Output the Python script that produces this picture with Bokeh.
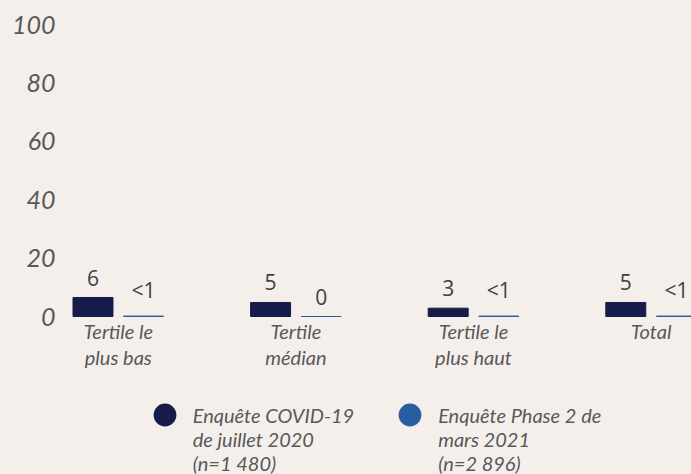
from bokeh.plotting import figure
from bokeh.models import FixedTicker, ColumnDataSource, Legend, LegendItem
from bokeh.transform import dodge
from bokeh.core.properties import value
from bokeh.embed import file_html
from bokeh.resources import INLINE

categories = ["Tertile le\nplus bas", "Tertile\nmédian", "Tertile le\nplus haut", "Total"]
juillet_2020 = [6.5, 4.8, 2.85, 4.8]
mars_2021 = [0.15, 0, 0.15, 0.15]
labels_2020 = ["6", "5", "3", "5"]
labels_2021 = ["<1", "0", "<1", "<1"]
series_names = ["Enquête COVID-19\nde juillet 2020\n(n=1 480)",
                "Enquête Phase 2 de\nmars 2021\n(n=2 896)"]
y_ticks = [0, 20, 40, 60, 80, 100]

BG = "#f5efec"
C1 = "#161b4a"
C2 = "#2a5d9f"
GREY = "#595959"

idx = list(range(len(categories)))
src = ColumnDataSource(dict(x=idx, cat=categories, a=juillet_2020, b=mars_2021,
                            la=labels_2020, lb=labels_2021, zero=[0] * len(idx)))

p = figure(width=691, height=474, output_backend="svg", toolbar_location=None,
           x_range=(-0.3142, 3.2275), y_range=(-54.11, 108.22),
           x_axis_location=None,
           min_border_left=62, min_border_right=0, min_border_top=0, min_border_bottom=0,
           background_fill_color=BG, border_fill_color=BG, outline_line_color=None)
p.grid.visible = False

ya = p.yaxis[0]
ya.ticker = FixedTicker(ticks=y_ticks)
ya.axis_line_color = None
ya.major_tick_line_color = None
ya.minor_tick_line_color = None
ya.major_tick_out = 0
ya.major_tick_in = 0
ya.minor_tick_out = 0
ya.minor_tick_in = 0
ya.major_label_standoff = 7
ya.major_label_text_font = "Lato"
ya.major_label_text_font_style = "italic"
ya.major_label_text_font_size = "25px"
ya.major_label_text_color = GREY

off = 0.1425
w = 0.225
p.vbar(x=dodge('x', -off), top='a', bottom=0, width=w, source=src, color=C1)
p.vbar(x=dodge('x', off), top='b', bottom=0, width=w, source=src, color=C2)

p.text(x=dodge('x', -off), y='a', text='la', source=src, text_align='center',
       text_baseline='bottom', y_offset=-12, text_font=value("Open Sans"),
       text_font_size="21px", text_color="#404040")
p.text(x=dodge('x', off), y='b', text='lb', source=src, text_align='center',
       text_baseline='bottom', y_offset=-12, text_font=value("Open Sans"),
       text_font_size="21px", text_color="#404040")

p.text(x='x', y='zero', text='cat', source=src, text_align='center',
       text_baseline='top', y_offset=2, text_font=value("Lato"),
       text_font_style="italic", text_font_size="20px", text_color=GREY,
       text_line_height=1.09)

# legend markers: zero-size points (invisible in the plot), legend draws them at box size
r1 = p.scatter(x='x', y='zero', source=src, marker="circle", size=0,
               fill_color=C1, line_color=None)
r2 = p.scatter(x='x', y='zero', source=src, marker="circle", size=0,
               fill_color=C2, line_color=None)
# two leading blank lines so the (vertically centred) marker sits on the first text line
legend = Legend(items=[LegendItem(label="\n\n" + series_names[0], renderers=[r1]),
                       LegendItem(label="\n\n" + series_names[1], renderers=[r2])],
                orientation="horizontal", location=(73.7, -0.5),
                glyph_width=57, glyph_height=57, label_standoff=0, spacing=27,
                padding=0, margin=0, background_fill_alpha=0, border_line_color=None,
                label_text_font="Lato", label_text_font_style="italic",
                label_text_font_size="20px", label_text_color=GREY,
                label_text_line_height=1.24)
p.add_layout(legend, "center")

html = file_html(p, INLINE)
html = html.replace("</head>", "<style>html,body{background:#f5efec;}</style></head>", 1)
open("out.html", "w").write(html)
